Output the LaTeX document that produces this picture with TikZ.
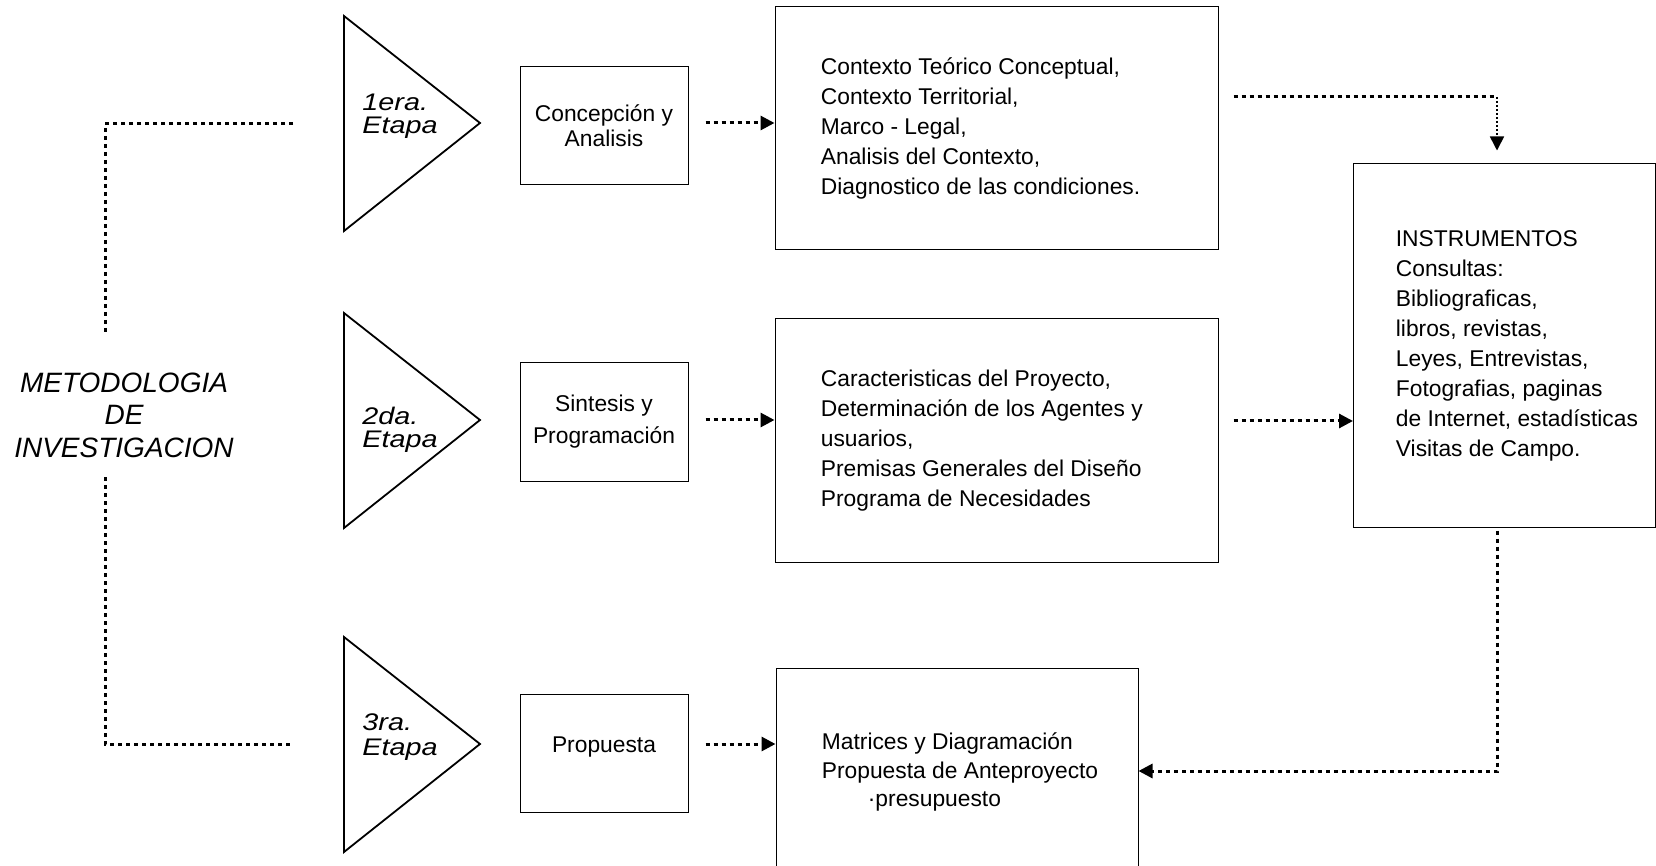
\documentclass[tikz,border=0pt]{standalone}
\usepackage{fontspec}
\setmainfont{Liberation Sans}
\newfontfamily\etapafont{Liberation Sans}[FakeStretch=1.2]
\usetikzlibrary{arrows.meta,positioning}

\tikzset{
  box/.style={draw, line width=.5pt, inner sep=0pt},
  txt/.style={font=\fontsize{11.4}{15}\selectfont, align=left, inner sep=0pt},
  etapa/.style={font=\etapafont\fontsize{12}{#1}\selectfont\itshape, align=left, inner sep=0pt, anchor=west},
  meto/.style={font=\fontsize{14}{16.25}\selectfont\itshape, align=center, inner sep=0pt},
  dotline/.style={line width=1.5pt, dash pattern=on 2pt off 2pt},
  thindot/.style={line width=.8pt, dash pattern=on 1pt off 1pt},
  tip/.style={-{Triangle[length=7pt,width=7pt]}},
}

\begin{document}
\begin{tikzpicture}[x=0.5pt, y=-0.5pt]
  \useasboundingbox (0,0) rectangle (1656,866);

  % stage triangles
  \draw[line width=.9pt] (344,16) -- (480,123) coordinate (t1) -- (344,231) -- cycle;
  \draw[line width=.9pt] (344,313) -- (480,420) coordinate (t2) -- (344,528) -- cycle;
  \draw[line width=.9pt] (344,637) -- (480,744) coordinate (t3) -- (344,852) -- cycle;
  \node[etapa=11.5] (e1) at (362,116) {1era.\\Etapa};
  \node[etapa=11.5] (e2) at (362,430) {2da.\\Etapa};
  \node[etapa=12.5] (e3) at (362,737) {3ra.\\Etapa};

  % methodology label and its bracket
  \node[meto] (meto) at (124,415) {METODOLOGIA\\DE\\INVESTIGACION};
  \coordinate (lt) at (293,124);
  \coordinate (lb) at (293,744);
  \draw[dotline] (lt) -| (105,335);
  \draw[dotline] (105,477) |- (lb);

  % small boxes
  \node[box, minimum width=84pt, minimum height=59pt, align=center,
        font=\fontsize{11.4}{12.5}\selectfont] (b1) at (604,126) {Concepción y\\Analisis};
  \node[box, minimum width=84pt, minimum height=59pt, align=center,
        font=\fontsize{11.4}{16}\selectfont] (b2) at (604,422) {Sintesis y\\Programación};
  \node[box, minimum width=84pt, minimum height=59pt, text depth=8pt,
        font=\fontsize{11.4}{15}\selectfont] (b3) at (604,753) {Propuesta};

  % middle boxes
  \node[box, minimum width=221.5pt, minimum height=121.5pt] (m1) at (996.5,128.5) {};
  \node[txt, right=23pt of m1.west] (m1t) {Contexto Teórico Conceptual,\\Contexto Territorial,\\Marco - Legal,\\Analisis del Contexto,\\Diagnostico de las condiciones.};
  \node[box, minimum width=221.5pt, minimum height=121.5pt] (m2) at (996.5,440.5) {};
  \node[txt, right=23pt of m2.west] (m2t) {Caracteristicas del Proyecto,\\Determinación de los Agentes y\\usuarios,\\Premisas Generales del Diseño\\Programa de Necesidades};
  \node[box, minimum width=181pt, minimum height=104pt] (m3) at (957,772) {};
  \node[txt, font=\fontsize{11.4}{14.25}\selectfont, right=23pt of m3.west] (m3t) {Matrices y Diagramación\\Propuesta de Anteproyecto\\\hspace*{23pt}·presupuesto};

  % instruments box
  \node[box, minimum width=151pt, minimum height=181.5pt] (r) at (1504,345.5) {};
  \node[txt, right=21.5pt of r.west] (rt) {INSTRUMENTOS\\Consultas:\\Bibliograficas,\\libros, revistas,\\Leyes, Entrevistas,\\Fotografias, paginas\\de Internet, estadísticas\\Visitas de Campo.};

  % stage arrows
  \draw[dotline, tip, shorten <=8.5pt] (b1.east |- t1) -- (m1.west |- t1);
  \draw[dotline, tip, shorten <=8.5pt] (b2.east |- t2) -- (m2.west |- t2);
  \draw[dotline, tip, shorten <=8.5pt] (b3.east |- t3) -- (m3.west |- t3);

  % to and from the instruments
  \coordinate (c1) at (1497,97);
  \draw[dotline, shorten <=7.5pt] (m1.east |- c1) -- (c1);
  \draw[thindot, tip, shorten >=6.5pt] (c1) -- (c1 |- r.north);
  \coordinate (c2) at (1353,421);
  \draw[dotline, tip, shorten <=7.5pt] (m2.east |- c2) -- (c2);
  \coordinate (c3) at (1497,771);
  \draw[dotline, tip, shorten <=1.5pt] (r.south -| c3) -- (c3) -- (m3.east |- c3);
\end{tikzpicture}
\end{document}
